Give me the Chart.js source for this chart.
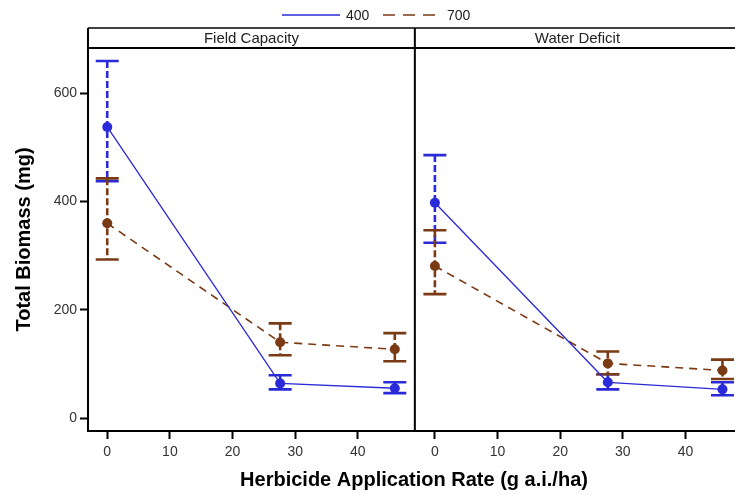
<!DOCTYPE html>
<html>
<head>
<meta charset="utf-8">
<script src="https://cdn.jsdelivr.net/npm/chart.js@4/dist/chart.umd.min.js"></script>
<style>
  html,body{margin:0;padding:0;background:#fff;overflow:hidden;}
  #wrap{position:absolute;left:0;top:0;width:745px;height:495px;}
</style>
</head>
<body>
<div id="wrap"><canvas id="chart" width="745" height="495"></canvas></div>
<script>
'use strict';
// herbicide rates (g a.i./ha) and axis ticks
var rates=[0,27.6,45.9];
var xTicks=[0,10,20,30,40];
var yTicks=[0,200,400,600];
var panels=['Field Capacity','Water Deficit'];
var seriesNames=['400','700'];

// Field Capacity: mean, lower, upper
var fc400=[538,64,55], fc400Lo=[438,53,46], fc400Hi=[660,79,66];
var fc700=[360,140,127], fc700Lo=[293,116,105], fc700Hi=[443,175,157];
// Water Deficit
var wd400=[398,66,53], wd400Lo=[324,53,42], wd400Hi=[486,81,66];
var wd700=[281,101,88], wd700Lo=[229,81,72], wd700Hi=[347,123,108];

var means=[[fc400,fc700],[wd400,wd700]];
var lows=[[fc400Lo,fc700Lo],[wd400Lo,wd700Lo]];
var highs=[[fc400Hi,fc700Hi],[wd400Hi,wd700Hi]];

var colors=['#2a2ad8','#7a3a14'];
var lineDash=[[],[8,6]];
var lineW=[1.3,1.6];
var FONT='"Liberation Sans", Arial, sans-serif';

// both panels share one x axis; the second panel is shifted by OFFSET
var XMIN=-3.07, XMAX=101.0, DIVIDER=49.1, OFFSET=52.3;
var panelEdges=[[XMIN,DIVIDER],[DIVIDER,XMAX]];

var datasets=[];
panels.forEach(function(p,pi){
  seriesNames.forEach(function(s,si){
    datasets.push({
      label:s,
      data:rates.map(function(r,i){return {x:r+pi*OFFSET,y:means[pi][si][i]};}),
      lo:lows[pi][si],
      hi:highs[pi][si],
      borderColor:colors[si],
      backgroundColor:colors[si],
      pointBackgroundColor:colors[si],
      pointBorderColor:colors[si],
      pointBorderWidth:0,
      pointRadius:5,
      borderWidth:lineW[si],
      borderDash:lineDash[si],
      tension:0,
      fill:false
    });
  });
});

var errorBars={
  id:'errorBars',
  beforeDatasetsDraw:function(chart){
    var ctx=chart.ctx, xs=chart.scales.x, ys=chart.scales.y;
    ctx.save();
    chart.data.datasets.forEach(function(ds){
      ctx.strokeStyle=ds.borderColor;
      ctx.lineWidth=2.6;
      ds.data.forEach(function(pt,i){
        var px=xs.getPixelForValue(pt.x);
        var yl=ys.getPixelForValue(ds.lo[i]);
        var yh=ys.getPixelForValue(ds.hi[i]);
        ctx.setLineDash([7,3]);
        ctx.beginPath();ctx.moveTo(px,yh);ctx.lineTo(px,yl);ctx.stroke();
        ctx.setLineDash([]);
        ctx.beginPath();
        ctx.moveTo(px-11.5,yh);ctx.lineTo(px+11.5,yh);
        ctx.moveTo(px-11.5,yl);ctx.lineTo(px+11.5,yl);
        ctx.stroke();
      });
    });
    ctx.restore();
  }
};

var frames={
  id:'frames',
  afterDraw:function(chart){
    var ctx=chart.ctx, xs=chart.scales.x, area=chart.chartArea;
    var stripTop=28;
    ctx.save();
    ctx.strokeStyle='#000';
    panels.forEach(function(p,pi){
      var x0=xs.getPixelForValue(panelEdges[pi][0]);
      var x1=xs.getPixelForValue(panelEdges[pi][1]);
      ctx.lineWidth=1.5;
      ctx.beginPath();ctx.moveTo(x0,stripTop);ctx.lineTo(x1,stripTop);ctx.stroke();
      ctx.lineWidth=2;
      ctx.beginPath();ctx.moveTo(x0,area.top);ctx.lineTo(x1,area.top);ctx.stroke();
      ctx.beginPath();ctx.moveTo(x0,stripTop);ctx.lineTo(x0,pi?area.bottom:area.top);ctx.stroke();
      ctx.fillStyle='#222';
      ctx.font='15px '+FONT;
      ctx.textAlign='center';ctx.textBaseline='middle';
      ctx.fillText(p,(x0+x1)/2,(stripTop+area.top)/2+1);
    });
    // legend
    var ly=15;
    ctx.font='14px '+FONT;
    ctx.textAlign='left';ctx.textBaseline='middle';
    var items=[[282,340,346],[383,435,447]];
    seriesNames.forEach(function(s,si){
      var it=items[si];
      ctx.strokeStyle=colors[si];
      ctx.lineWidth=lineW[si];
      ctx.setLineDash(si?[12,8]:[]);
      ctx.beginPath();ctx.moveTo(it[0],ly);ctx.lineTo(it[1],ly);ctx.stroke();
      ctx.setLineDash([]);
      ctx.fillStyle='#222';
      ctx.fillText(s,it[2],ly+1);
    });
    ctx.restore();
  }
};

var ctx=document.getElementById('chart');
var chart=new Chart(ctx,{
  type:'line',
  data:{datasets:datasets},
  options:{
    responsive:false,
    animation:false,
    layout:{padding:{top:48,right:3,left:0,bottom:0}},
    plugins:{legend:{display:false},tooltip:{enabled:false}},
    scales:{
      x:{
        type:'linear',
        min:XMIN,
        max:XMAX,
        afterBuildTicks:function(scale){
          var t=[];
          panels.forEach(function(p,pi){xTicks.forEach(function(v){t.push({value:v+pi*OFFSET});});});
          scale.ticks=t;
        },
        afterFit:function(scale){scale.height=64;},
        ticks:{
          color:'#333',font:{family:FONT,size:14},padding:5,maxRotation:0,autoSkip:false,
          callback:function(v){return String(Math.round(v>DIVIDER?v-OFFSET:v));}
        },
        grid:{drawOnChartArea:false,drawTicks:true,tickLength:8,tickWidth:2,tickColor:'#000',color:'#000'},
        border:{display:true,color:'#000',width:2},
        title:{display:true,text:'Herbicide Application Rate (g a.i./ha)',color:'#000',
          font:{family:FONT,size:20,weight:'bold'},padding:{top:0,bottom:3}}
      },
      y:{
        type:'linear',
        min:-24,
        max:684,
        afterBuildTicks:function(scale){scale.ticks=yTicks.map(function(v){return {value:v};});},
        afterFit:function(scale){scale.width=88;},
        ticks:{color:'#333',font:{family:FONT,size:14},padding:3},
        grid:{drawOnChartArea:false,drawTicks:true,tickLength:8,tickWidth:2,tickColor:'#000',color:'#000'},
        border:{display:true,color:'#000',width:2},
        title:{display:true,text:'Total Biomass (mg)',color:'#000',
          font:{family:FONT,size:20,weight:'bold'},padding:{top:12,bottom:0}}
      }
    }
  },
  plugins:[errorBars,frames]
});
</script>
</body>
</html>
